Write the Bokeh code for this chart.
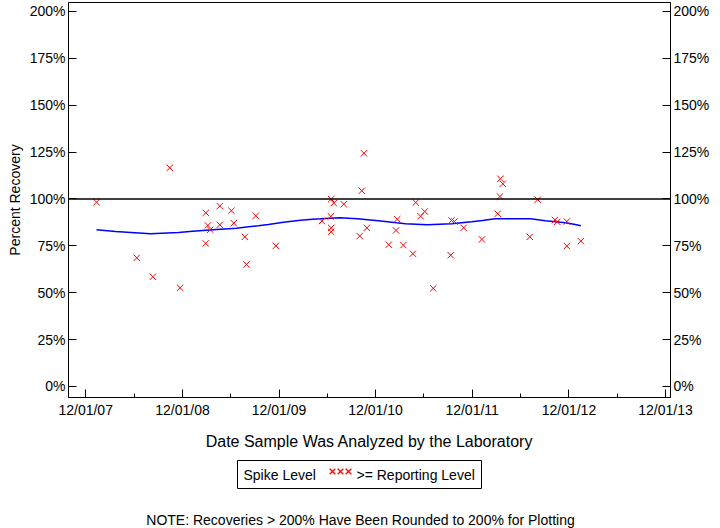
import pandas as pd
from bokeh.plotting import figure
from bokeh.models import (Range1d, LinearAxis, FixedTicker, DatetimeTickFormatter,
                          PrintfTickFormatter, Span, ColumnDataSource)
from bokeh.layouts import column
from bokeh.embed import file_html
from bokeh.resources import INLINE
from bokeh.core.properties import value

# ---------------- data ----------------
sample_dates = [
    "2008-01-11", "2008-06-11", "2008-08-11", "2008-10-14", "2008-11-22",
    "2009-02-27", "2009-02-27", "2009-03-07", "2009-03-16", "2009-04-21",
    "2009-04-21", "2009-06-04", "2009-06-13", "2009-07-25", "2009-07-31",
    "2009-09-04", "2009-11-19", "2010-05-12", "2010-06-15", "2010-06-16",
    "2010-06-26", "2010-06-16", "2010-06-16", "2010-08-03", "2010-10-02",
    "2010-10-10", "2010-10-18", "2010-10-29", "2011-01-20", "2011-02-16",
    "2011-02-21", "2011-03-16", "2011-04-21", "2011-05-02", "2011-05-20",
    "2011-06-05", "2011-07-07", "2011-09-11", "2011-09-14", "2011-09-25",
    "2011-10-30", "2012-01-07", "2012-03-07", "2012-03-15", "2012-03-17",
    "2012-03-26", "2012-07-06", "2012-08-05", "2012-10-09", "2012-10-18",
    "2012-11-23", "2012-11-23", "2013-01-15",
]
recovery_pct = [
    98.3, 68.6, 58.5, 116.6, 52.6,
    92.6, 76.3, 85.9, 83.6, 96.2,
    86.2, 93.7, 87.1, 79.8, 65.1,
    91.0, 75.0, 88.2, 90.7, 99.9,
    97.8, 84.6, 82.5, 97.2, 80.2,
    104.4, 124.4, 84.6, 75.6, 83.2,
    89.2, 75.4, 70.8, 98.1, 90.8,
    93.3, 52.3, 70.0, 88.5, 88.0,
    84.6, 78.4, 92.1, 101.3, 110.8,
    108.1, 79.8, 99.6, 88.8, 87.8,
    88.0, 74.9, 77.5,
]

trend_dates = [
    "2008-01-11", "2008-03-23", "2008-08-02", "2008-11-16", "2009-01-08",
    "2009-04-09", "2009-06-23", "2009-08-08", "2009-09-14", "2009-10-22",
    "2009-12-18", "2010-02-20", "2010-04-06", "2010-05-07", "2010-07-18",
    "2010-09-24", "2010-11-12", "2010-12-12", "2011-02-18", "2011-03-24",
    "2011-06-15", "2011-09-14", "2011-11-29", "2012-01-09", "2012-02-26",
    "2012-04-28", "2012-07-09", "2012-09-03", "2012-10-11", "2012-11-18",
    "2012-12-25", "2013-01-15",
]
trend_pct = [
    83.6, 82.7, 81.4, 82.1, 82.8,
    83.7, 84.4, 85.2, 85.7, 86.4,
    87.6, 88.7, 89.2, 89.4, 90.0,
    89.4, 88.8, 88.4, 87.3, 86.8,
    86.2, 86.8, 87.8, 88.5, 89.4,
    89.4, 89.4, 88.4, 87.8, 87.3,
    86.4, 85.7,
]

x_tick_dates = ["2007-12-01", "2008-12-01", "2009-12-01", "2010-12-01",
                "2011-12-01", "2012-12-01", "2013-12-01"]
x_minor_dates = ["2008-06-01", "2009-06-01", "2010-06-01", "2011-06-01",
                 "2012-06-01", "2013-06-01"]
y_ticks = [0, 25, 50, 75, 100, 125, 150, 175, 200]
reference_level = 100

x_title = "Date Sample Was Analyzed by the Laboratory"
y_title = "Percent Recovery"
legend_title = "Spike Level"
legend_label = ">= Reporting Level"
note_text = "NOTE: Recoveries > 200% Have Been Rounded to 200% for Plotting"

FONT = "Liberation Sans"
FRAME_L, FRAME_R = 68, 670


def to_ms(lst):
    s = pd.to_datetime(pd.Series(lst))
    return list(((s - pd.Timestamp("1970-01-01")) // pd.Timedelta(milliseconds=1)).astype(float))


src = ColumnDataSource(dict(d=pd.to_datetime(sample_dates), v=recovery_pct))
trend = ColumnDataSource(dict(d=pd.to_datetime(trend_dates), v=trend_pct))

p = figure(width=720, height=452, x_axis_type="datetime",
           x_range=Range1d(pd.Timestamp("2007-09-27"), pd.Timestamp("2013-12-20")),
           y_range=Range1d(-5.9, 204.8),
           output_backend="svg", toolbar_location=None,
           min_border_left=FRAME_L, min_border_right=720 - FRAME_R,
           min_border_top=2, min_border_bottom=55)
p.grid.visible = False
p.outline_line_color = "black"
p.outline_line_width = 1

xt = FixedTicker(ticks=to_ms(x_tick_dates), minor_ticks=to_ms(x_minor_dates))
p.xaxis.ticker = xt
p.xaxis.formatter = DatetimeTickFormatter(years="%m/%d/%y", months="%m/%d/%y",
                                          days="%m/%d/%y", hours="%m/%d/%y")
p.xaxis.axis_label = x_title

p.yaxis.ticker = FixedTicker(ticks=y_ticks)
p.yaxis.formatter = PrintfTickFormatter(format="%d%%")
p.yaxis.axis_label = y_title
right_axis = LinearAxis(ticker=FixedTicker(ticks=y_ticks), formatter=PrintfTickFormatter(format="%d%%"))
p.add_layout(right_axis, "right")

for ax in p.xaxis + p.yaxis:
    ax.major_tick_in = 8
    ax.major_tick_out = 0
    ax.minor_tick_in = 0
    ax.minor_tick_out = 0
    ax.axis_line_color = "black"
    ax.major_tick_line_color = "black"
    ax.major_label_text_font = FONT
    ax.major_label_text_font_size = "14px"
    ax.major_label_text_color = "black"
    ax.axis_label_text_font = FONT
    ax.axis_label_text_font_style = "normal"
    ax.axis_label_text_color = "black"
    ax.major_label_standoff = 4
p.xaxis.minor_tick_in = 4
p.xaxis.minor_tick_line_color = "black"
p.xaxis.axis_label_text_font_size = "16px"
p.xaxis.axis_label_standoff = 12
p.yaxis[0].axis_label_text_font_size = "14px"
p.yaxis[0].axis_label_standoff = 4
p.yaxis.major_label_standoff = 3

p.add_layout(Span(location=reference_level, dimension="width",
                  line_color="black", line_width=1.5))
p.line("d", "v", source=trend, line_color="#0000FF", line_width=1.5)
p.scatter("d", "v", source=src, marker="x", size=9, line_color="#FF0000", line_width=1)

# ---------------- legend + note panel (frame aligned with main plot) ----------------
p2 = figure(width=720, height=76, x_range=Range1d(FRAME_L, FRAME_R), y_range=Range1d(76, 0),
            x_axis_type=None, y_axis_type=None, output_backend="svg",
            toolbar_location=None, min_border=0,
            min_border_left=FRAME_L, min_border_right=720 - FRAME_R)
p2.outline_line_color = None
p2.grid.visible = False
p2.quad(left=[237], right=[481], top=[8], bottom=[36], fill_color=None,
        line_color="black", line_width=1)
p2.text(x=[243], y=[22], text=[legend_title], text_baseline="middle", text_align="left",
        text_font=value(FONT), text_font_size="14px", text_color="black")
p2.scatter(x=[332, 340, 348], y=[19, 19, 19], marker="x", size=8, line_color="#FF0000",
           line_width=1.3)
p2.text(x=[356], y=[22], text=[legend_label], text_baseline="middle", text_align="left",
        text_font=value(FONT), text_font_size="14px", text_color="black")
p2.text(x=[360], y=[67], text=[note_text], text_baseline="middle", text_align="center",
        text_font=value(FONT), text_font_size="14px", text_color="black")

layout = column(p, p2, spacing=0)
open("out.html", "w").write(file_html(layout, INLINE))
